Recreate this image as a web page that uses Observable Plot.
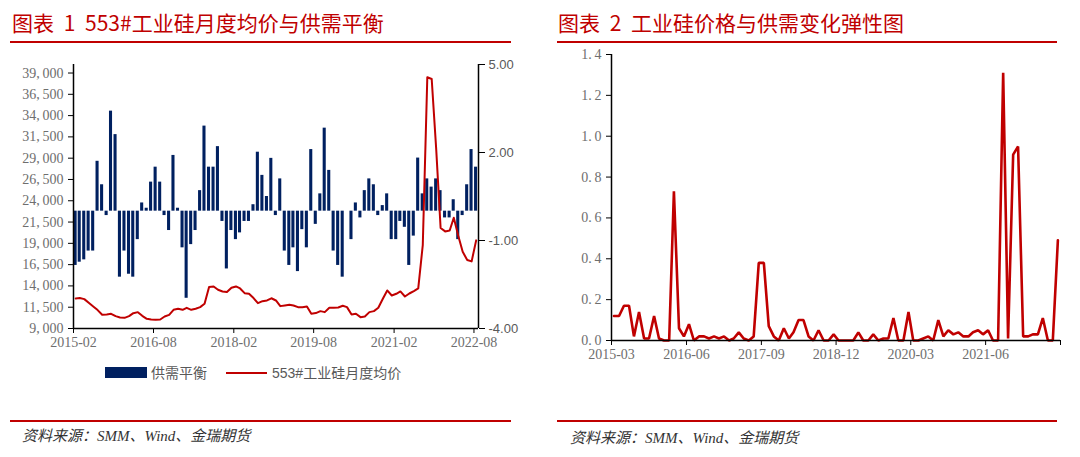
<!DOCTYPE html>
<html><head><meta charset="utf-8">
<script src="https://cdn.jsdelivr.net/npm/d3@7"></script>
<script src="https://cdn.jsdelivr.net/npm/@observablehq/plot@0.6"></script>
<style>
html,body{margin:0;padding:0;background:#fff}
body{width:1080px;height:457px;overflow:hidden;position:relative;font-family:"Noto Sans CJK SC",sans-serif}
.title{position:absolute;top:7px;color:#c00000;font-size:21px;line-height:30px;white-space:nowrap;word-spacing:5px}
.rule{position:absolute;height:2px;background:#c00000}
.src{position:absolute;font-style:italic;font-size:15px;color:#333;white-space:nowrap;font-family:"Liberation Serif","Noto Sans CJK SC",serif}
.leg{position:absolute;font-size:14px;color:#595959;line-height:16px;white-space:nowrap;font-family:"Liberation Sans","Noto Sans CJK SC",sans-serif}
#left{position:absolute;left:0;top:50px}
#right{position:absolute;left:540px;top:40px}
</style></head>
<body>
<div class="title" style="left:12px">图表 1 553#工业硅月度均价与供需平衡</div>
<div class="rule" style="left:10px;width:501px;top:41px"></div>
<div class="title" style="left:558px">图表 2 工业硅价格与供需变化弹性图</div>
<div class="rule" style="left:557px;width:500px;top:41px"></div>
<div id="left"></div>
<div id="right"></div>
<div style="position:absolute;left:105px;top:367px;width:42px;height:11px;background:#002060"></div>
<div class="leg" style="left:151px;top:365px">供需平衡</div>
<div style="position:absolute;left:226px;top:372px;width:41px;height:2px;background:#c00000"></div>
<div class="leg" style="left:272px;top:365px">553#工业硅月度均价</div>
<div class="rule" style="left:10px;width:501px;top:420px"></div>
<div class="rule" style="left:557px;width:500px;top:420px"></div>
<div class="src" style="left:22px;top:424px">资料来源：SMM、Wind、金瑞期货</div>
<div class="src" style="left:570px;top:426px">资料来源：SMM、Wind、金瑞期货</div>
<script>
// ---------- Chart 1: 553# monthly average price & supply-demand balance ----------
const balanceStart = "2015-02";
const balanceEnd = "2022-09"; // axis end (one slot after the last month)
const balance = [
  -1.85, -1.74, -1.66, -1.36, -1.36, 1.70, 0.90, -0.15, 3.41, 2.61,
  -2.25, -1.36, -2.15, -2.25, -0.97, 0.28, 0.10, 0.99, 1.50, 0.99,
  -0.15, -0.66, 1.90, 0.10, -1.25, -2.97, -1.14, -0.66, 0.70, 2.90,
  1.50, 1.50, 2.20, -0.35, -1.97, -0.66, -0.97, -0.74, -0.35, -0.35,
  0.22, 2.01, 1.22, 0.50, 1.80, -0.15, 1.10, -1.36, -1.85, -1.25,
  -2.06, -0.63, -1.25, 2.10, -0.45, 0.59, 2.83, 1.39, -1.36, -1.85,
  -2.25, 0.00, -0.97, 0.28, -0.23, 0.70, 1.10, 0.90, -0.15, 0.19,
  0.59, -0.97, -0.97, -0.35, -0.55, -1.85, -0.85, 1.81, 0.59, 1.10,
  0.82, 1.10, 0.70, -0.23, -0.23, 0.39, -0.97, -0.15, 0.90, 2.10,
  1.50
];
const price = [
  12530, 12570, 12450, 12020, 11590, 11160, 10610, 10650, 10730, 10450,
  10290, 10250, 10450, 10800, 10920, 10490, 10140, 10060, 10020, 10060,
  10410, 10600, 11195, 11313, 11195, 11430, 11195, 11313, 11508, 11900,
  13860, 13940, 13550, 13350, 13275, 13780, 13940, 13700, 13150, 13080,
  12570, 11980, 12210, 12290, 12550, 12290, 11627, 11705, 11783, 11705,
  11508, 11508, 11587, 10729, 10808, 11040, 10920, 11430, 11430, 11470,
  11665, 11508, 10646, 10729, 10333, 10411, 10920, 11040, 11430, 12490,
  13470, 12880, 13080, 13350, 12760, 13110, 13390, 13700, 18800, 38500,
  38300, 30000, 20800, 20400, 20500, 22000, 19850, 18000, 17050, 16880,
  19350
];
const priceTicks = [9000, 11500, 14000, 16500, 19000, 21500, 24000, 26500, 29000, 31500, 34000, 36500, 39000];
const priceDomain = [9000, 40000];
const balanceTicks = [-4, -1, 2, 5];
const balanceDomain = [-4, 5];
const leftXTicks = ["2015-02", "2016-08", "2018-02", "2019-08", "2021-02", "2022-08"];

// ---------- Chart 2: elasticity ----------
const elasticityStart = "2015-03";
const elasticityEnd = "2022-09";
const elasticity = [
  0.12, 0.12, 0.17, 0.17, 0.02, 0.14, 0.01, 0.01, 0.12, 0.01,
  0.00, 0.00, 0.73, 0.06, 0.02, 0.08, 0.00, 0.02, 0.02, 0.01,
  0.02, 0.01, 0.02, 0.00, 0.01, 0.04, 0.01, 0.00, 0.02, 0.38,
  0.38, 0.07, 0.02, 0.00, 0.06, 0.01, 0.04, 0.10, 0.10, 0.02,
  0.00, 0.05, 0.00, 0.00, 0.03, 0.00, 0.00, 0.00, 0.00, 0.04,
  0.00, 0.00, 0.03, 0.00, 0.01, 0.01, 0.11, 0.00, 0.00, 0.14,
  0.00, 0.00, 0.01, 0.02, 0.00, 0.10, 0.02, 0.05, 0.03, 0.04,
  0.02, 0.02, 0.04, 0.05, 0.03, 0.05, 0.00, 0.00, 1.31, 0.01,
  0.91, 0.95, 0.02, 0.02, 0.03, 0.03, 0.11, 0.00, 0.00, 0.49
];
const elasticityTicks = [0, 0.2, 0.4, 0.6, 0.8, 1.0, 1.2, 1.4];
const elasticityDomain = [0, 1.4];
const rightXTicks = ["2015-03", "2016-06", "2017-09", "2018-12", "2020-03", "2021-06"];

// ---------- build ----------
const parse = d3.utcParse("%Y-%m");
const fmtMonth = d3.utcFormat("%Y-%m");
const serif = "Liberation Serif, serif";
const grey = "#6e6e6e";

const toLeft = r => priceDomain[0] + (r - balanceDomain[0]) / (balanceDomain[1] - balanceDomain[0]) * (priceDomain[1] - priceDomain[0]);
const fromLeft = l => balanceDomain[0] + (l - priceDomain[0]) / (priceDomain[1] - priceDomain[0]) * (balanceDomain[1] - balanceDomain[0]);

const lStart = parse(balanceStart), lEnd = parse(balanceEnd);
const lMonths = balance.map((_, i) => d3.utcMonth.offset(lStart, i));
const bars = balance.map((v, i) => ({
  x1: d3.utcDay.offset(lMonths[i], 4), x2: d3.utcDay.offset(lMonths[i], 25),
  y1: toLeft(0), y2: toLeft(v)
}));
const priceLine = price.map((v, i) => ({x: d3.utcDay.offset(lMonths[i], 15), y: v}));

const left = Plot.plot({
  width: 520, height: 310,
  marginTop: 14, marginBottom: 32, marginLeft: 73, marginRight: 42,
  x: {type: "utc", domain: [lStart, lEnd], label: null},
  y: {domain: priceDomain, label: null},
  style: {background: "transparent", overflow: "visible"},
  marks: [
    Plot.rect(bars, {x1: "x1", x2: "x2", y1: "y1", y2: "y2", fill: "#002060"}),
    Plot.line(priceLine, {x: "x", y: "y", stroke: "#c00000", strokeWidth: 2}),
    Plot.ruleX([lStart], {stroke: "#000", strokeWidth: 1.5}),
    Plot.ruleX([lEnd], {stroke: "#000", strokeWidth: 1.5}),
    Plot.ruleY([priceDomain[0]], {stroke: "#000", strokeWidth: 1.5}),
    Plot.axisY({anchor: "left", ticks: priceTicks, tickSize: 5, tickPadding: 5,
      tickFormat: d => d3.format(",")(d).replace(",", ",\u2009"),
      stroke: "#000", fill: grey, fontSize: 14, fontFamily: serif, label: null}),
    Plot.axisY({anchor: "right", ticks: balanceTicks.map(toLeft), tickSize: 6, tickPadding: 4,
      tickFormat: d => fromLeft(d).toFixed(2),
      stroke: "#000", fill: "#595959", fontSize: 13, fontFamily: "Liberation Sans, sans-serif", label: null}),
    Plot.axisX({ticks: leftXTicks.map(parse), tickFormat: fmtMonth, tickSize: 5, tickPadding: 4,
      stroke: "#000", fill: grey, fontSize: 14, fontFamily: serif, label: null})
  ]
});
document.getElementById("left").append(left);

const rStart = parse(elasticityStart), rEnd = parse(elasticityEnd);
const elLine = elasticity.map((v, i) => ({x: d3.utcDay.offset(d3.utcMonth.offset(rStart, i), 15), y: v}));
const rTicks = rightXTicks.map(parse).concat([rEnd]);

const right = Plot.plot({
  width: 540, height: 330,
  marginTop: 14, marginBottom: 30, marginLeft: 71, marginRight: 20,
  x: {type: "utc", domain: [rStart, rEnd], label: null},
  y: {domain: elasticityDomain, label: null},
  style: {background: "transparent", overflow: "visible"},
  marks: [
    Plot.line(elLine, {x: "x", y: "y", stroke: "#c00000", strokeWidth: 2.6, strokeLinejoin: "miter"}),
    Plot.ruleX([rStart], {stroke: "#000", strokeWidth: 1.5}),
    Plot.ruleY([0], {stroke: "#000", strokeWidth: 1.5}),
    Plot.axisY({anchor: "left", ticks: elasticityTicks, tickSize: 5, tickPadding: 5,
      tickFormat: d => d3.format(".1f")(d).replace(".", ".\u2009"),
      stroke: "#000", fill: grey, fontSize: 14, fontFamily: serif, label: null}),
    Plot.axisX({ticks: rTicks, tickFormat: d => +d === +rEnd ? "" : fmtMonth(d), tickSize: 5, tickPadding: 4,
      stroke: "#000", fill: grey, fontSize: 14, fontFamily: serif, label: null})
  ]
});
document.getElementById("right").append(right);
</script>
</body></html>
